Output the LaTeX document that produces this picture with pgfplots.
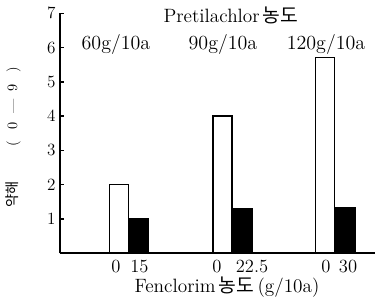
\documentclass[border=0pt]{standalone}
\usepackage{pgfplots}
\pgfplotsset{compat=1.18}
\usepackage{fontspec}
\newfontfamily\kr{Noto Sans CJK KR}
\begin{document}
\fontsize{13.5}{15}\selectfont
\begin{tikzpicture}
\begin{axis}[name=ax, scale only axis, width=220.5pt, height=168pt,
  xmin=0, xmax=315, ymin=0, ymax=7, clip=false,
  axis x line=bottom, axis y line=left,
  axis line style={-, line width=1.3pt},
  ytick={1,2,3,4,5,6,7},
  tick align=inside, major tick length=3pt,
  y tick style={line width=1pt, black},
  xtick={56,79.5,157,192,266,288},
  xticklabels={0,15,0,22.5,0,30},
  x tick style={draw=none},
  tick label style={font=\fontsize{13}{15}\selectfont},
  yticklabel style={xshift=1.5pt},
]
\addplot[ybar, bar width=19, bar shift=0, fill=white, draw=black, line width=1.1pt]
  coordinates {(59,2.0) (162.5,4.0) (265,5.71)};
\addplot[ybar, bar width=19, bar shift=0, fill=black, draw=black, line width=1.1pt]
  coordinates {(78.5,1.0) (182.5,1.31) (285.5,1.33)};
\node at (axis cs:171,6.95) {\addfontfeature{LetterSpace=5}Pretilachlor\,{\kr 농도}};
\node[font=\fontsize{14}{16}\selectfont] at (axis cs:56,6.1) {60g/10a};
\node[font=\fontsize{14}{16}\selectfont] at (axis cs:163,6.1) {90g/10a};
\node[font=\fontsize{14}{16}\selectfont] at (axis cs:266,6.1) {120g/10a};
\node at (axis cs:167,-0.98) {\addfontfeature{LetterSpace=4}Fenclorim\,{\kr 농도}\,(g/10a)};
\node[rotate=90, font=\fontsize{10}{12}\selectfont] at (axis cs:-47,3.39) {{\kr 약해}\hspace{24pt}(\hspace{8pt}0\hspace{6pt}---\hspace{6pt}9\hspace{8pt})};
\end{axis}
\pgfresetboundingbox
\path[use as bounding box] ([shift={(-42pt,-32.7pt)}]ax.south west) rectangle ([shift={(2.8pt,9.3pt)}]ax.north east);
\end{tikzpicture}
\end{document}
